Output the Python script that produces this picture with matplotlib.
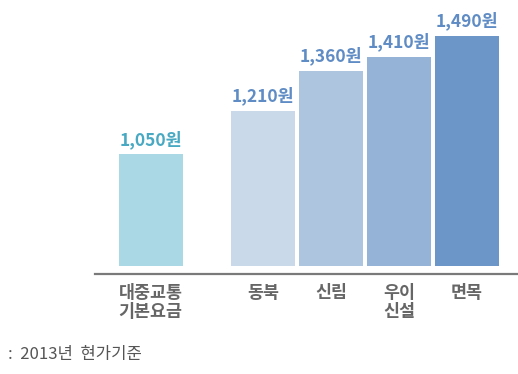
import matplotlib.pyplot as plt

plt.rcParams['font.family'] = ['Noto Sans CJK KR', 'DejaVu Sans']

categories = ['대중교통\n기본요금', '동북', '신림', '우이\n신설', '면목']
fares = [1050, 1210, 1360, 1410, 1490]
value_labels = ['1,050원', '1,210원', '1,360원', '1,410원', '1,490원']
positions = [0, 1.65, 2.65, 3.65, 4.65]

bar_colors = ['#aad8e5', '#c9d9ea', '#aec5e0', '#95b3d7', '#6b96c7']
label_colors = ['#49a9c3', '#5f8cc4', '#5f8cc4', '#5f8cc4', '#5f8cc4']

base = 637

fig = plt.figure(figsize=(5.18, 3.74), dpi=100)
ax = fig.add_axes([95 / 518, 100 / 374, 1 - 95 / 518, 274 / 374])

heights = [v - base for v in fares]
bars = ax.bar(positions, heights, bottom=base, width=0.94, color=bar_colors)

for b, txt, c in zip(bars, value_labels, label_colors):
    ax.annotate(txt, (b.get_x() + b.get_width() / 2, b.get_y() + b.get_height()),
                xytext=(0, 4), textcoords='offset points', ha='center', va='bottom',
                fontsize=12.5, fontweight='bold', color=c)

ax.set_xlim(-0.816, 5.40)
ax.set_ylim(607, 1622)

for s in ['top', 'right', 'left']:
    ax.spines[s].set_visible(False)
ax.spines['bottom'].set_color('#7a7a7a')
ax.spines['bottom'].set_linewidth(1.6)

ax.set_yticks([])
ax.set_xticks(positions)
ax.set_xticklabels(categories, fontsize=12.5, fontweight='black', color='#666666',
                   linespacing=1.1, va='top')
ax.tick_params(axis='x', length=0, pad=7)

fig.text(8 / 518, 1 - 355 / 374, ':  2013년  현가기준', fontsize=12, color='#555555',
         va='center', ha='left')

fig.savefig('out.png', dpi=100)
